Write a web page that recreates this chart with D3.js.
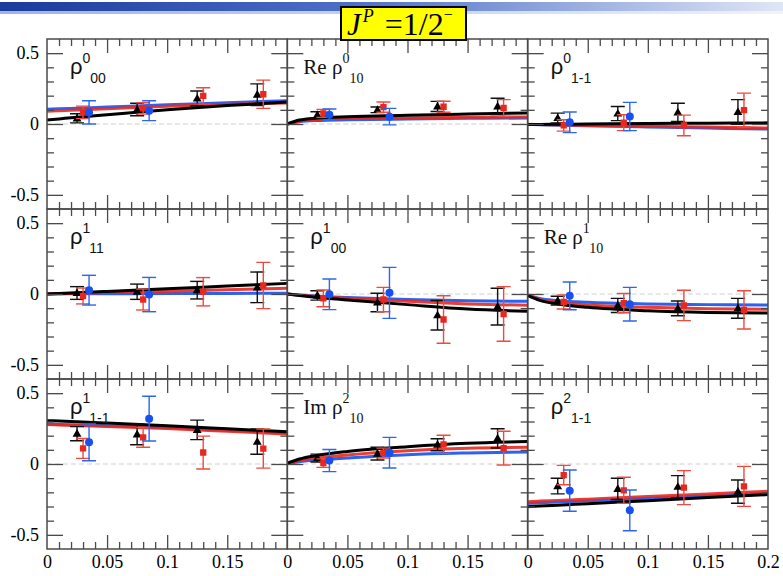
<!DOCTYPE html>
<html><head><meta charset="utf-8">
<script src="https://cdn.jsdelivr.net/npm/d3@7"></script>
<style>body{margin:0;background:#fff}svg{display:block}</style>
</head><body><svg id="c" width="783" height="576"></svg>
<script>
// ---------- DATA ----------
const labelPrefix = ["", "Re ", "", "", "", "Re ", "", "Im ", ""];
const labelSup = ["0", "0", "0", "1", "1", "1", "1", "2", "2"];
const labelSub = ["00", "10", "1-1", "11", "00", "10", "1-1", "10", "1-1"];

const xBlack = [0.025, 0.075, 0.125, 0.175];
const xRed = [0.030, 0.080, 0.130, 0.180];
const xBlue = [0.035, 0.085];

const blackVals = [
  [0.040, 0.102, 0.180, 0.207],
  [0.064, 0.100, 0.124, 0.124],
  [0.042, 0.074, 0.082, 0.085],
  [0.007, 0.016, 0.027, 0.047],
  [-0.010, -0.060, -0.150, -0.089],
  [-0.047, -0.081, -0.101, -0.101],
  [0.214, 0.209, 0.241, 0.158],
  [0.042, 0.073, 0.136, 0.181],
  [-0.156, -0.176, -0.161, -0.195]
];
const blackErrs = [
  [0.032, 0.044, 0.053, 0.076],
  [0.022, 0.020, 0.036, 0.058],
  [0.035, 0.050, 0.064, 0.087],
  [0.045, 0.054, 0.062, 0.108],
  [0.033, 0.065, 0.104, 0.130],
  [0.031, 0.050, 0.052, 0.070],
  [0.050, 0.073, 0.069, 0.089],
  [0.028, 0.045, 0.042, 0.068],
  [0.055, 0.075, 0.079, 0.082]
];
const redVals = [
  [0.082, 0.110, 0.198, 0.210],
  [0.075, 0.119, 0.122, 0.113],
  [-0.010, 0.009, -0.010, 0.098],
  [-0.014, -0.039, 0.016, 0.060],
  [-0.031, -0.039, -0.180, -0.141],
  [-0.056, -0.064, -0.081, -0.112],
  [0.110, 0.188, 0.081, 0.109],
  [0.006, 0.077, 0.139, 0.112],
  [-0.078, -0.186, -0.167, -0.158]
];
const redErrs = [
  [0.044, 0.040, 0.058, 0.100],
  [0.028, 0.036, 0.039, 0.059],
  [0.040, 0.056, 0.073, 0.120],
  [0.056, 0.074, 0.100, 0.163],
  [0.059, 0.086, 0.168, 0.193],
  [0.050, 0.068, 0.107, 0.135],
  [0.070, 0.070, 0.116, 0.138],
  [0.030, 0.035, 0.064, 0.119],
  [0.068, 0.092, 0.120, 0.141]
];
const blueVals = [
  [0.082, 0.094],
  [0.066, 0.052],
  [0.012, 0.053],
  [0.027, -0.004],
  [-0.002, 0.008],
  [-0.013, -0.072],
  [0.153, 0.320],
  [0.024, 0.080],
  [-0.188, -0.327]
];
const blueErrs = [
  [0.082, 0.070],
  [0.040, 0.058],
  [0.073, 0.100],
  [0.105, 0.121],
  [0.108, 0.180],
  [0.098, 0.119],
  [0.130, 0.158],
  [0.078, 0.108],
  [0.146, 0.144]
];

const curveX = [0, 0.01, 0.025, 0.05, 0.1, 0.15, 0.2];
const curveBlack = [
  [0.028, 0.036, 0.048, 0.066, 0.100, 0.130, 0.155],
  [0.000, 0.028, 0.042, 0.052, 0.061, 0.070, 0.078],
  [-0.004, -0.003, -0.002, 0.000, 0.003, 0.006, 0.008],
  [0.000, 0.004, 0.009, 0.018, 0.037, 0.056, 0.075],
  [0.000, -0.010, -0.024, -0.042, -0.075, -0.106, -0.122],
  [-0.010, -0.045, -0.070, -0.094, -0.118, -0.130, -0.134],
  [0.306, 0.303, 0.298, 0.289, 0.270, 0.249, 0.228],
  [0.005, 0.035, 0.061, 0.089, 0.122, 0.146, 0.158],
  [-0.301, -0.297, -0.291, -0.280, -0.259, -0.236, -0.216]
];
const curveRed = [
  [0.090, 0.094, 0.099, 0.108, 0.125, 0.139, 0.148],
  [0.000, 0.020, 0.030, 0.038, 0.042, 0.047, 0.050],
  [-0.002, -0.004, -0.006, -0.010, -0.016, -0.022, -0.028],
  [0.000, 0.002, 0.005, 0.010, 0.020, 0.030, 0.040],
  [0.000, -0.008, -0.018, -0.030, -0.052, -0.070, -0.080],
  [-0.008, -0.038, -0.059, -0.078, -0.094, -0.104, -0.108],
  [0.278, 0.275, 0.271, 0.265, 0.250, 0.231, 0.212],
  [0.003, 0.025, 0.042, 0.064, 0.094, 0.111, 0.118],
  [-0.266, -0.262, -0.257, -0.248, -0.229, -0.211, -0.193]
];
const curveBlue = [
  [0.104, 0.107, 0.112, 0.120, 0.136, 0.150, 0.165],
  [0.000, 0.016, 0.025, 0.030, 0.035, 0.040, 0.042],
  [-0.003, -0.005, -0.008, -0.013, -0.021, -0.029, -0.036],
  [0.000, 0.001, 0.001, 0.002, 0.003, 0.004, 0.005],
  [0.000, -0.007, -0.015, -0.024, -0.038, -0.047, -0.052],
  [-0.006, -0.032, -0.047, -0.059, -0.070, -0.075, -0.078],
  [0.282, 0.279, 0.276, 0.270, 0.256, 0.238, 0.221],
  [0.002, 0.016, 0.028, 0.042, 0.066, 0.078, 0.085],
  [-0.278, -0.274, -0.268, -0.260, -0.242, -0.224, -0.207]
];

const yTickLabels = [-0.5, 0, 0.5];
const xTickLabels = [0, 0.05, 0.1, 0.15, 0.2];
const titleMain = "J", titleSup = "P", titleMid = "=1/2", titleSup2 = "−";

// ---------- LAYOUT ----------
const svg = d3.select("#c");
const L = 47, PW = 240.33, T = 39, PH = 170;
const COL = {black: "#000000", red: "#e8281e", blue: "#1650ee", frame: "#4a4a4a"};
const SERIF = "'Liberation Serif', 'Times New Roman', serif";
const SANS = "'Liberation Sans', Arial, sans-serif";

// header band
const defs = svg.append("defs");
const g1 = defs.append("linearGradient").attr("id", "hdr");
g1.append("stop").attr("offset", "0%").attr("stop-color", "#1a3a9c");
g1.append("stop").attr("offset", "45%").attr("stop-color", "#4d6fc8");
g1.append("stop").attr("offset", "100%").attr("stop-color", "#dfe6f6");
svg.append("rect").attr("x", 0).attr("y", 2).attr("width", 783).attr("height", 9).attr("fill", "url(#hdr)");
const g2 = defs.append("linearGradient").attr("id", "hdr2");
g2.append("stop").attr("offset", "0%").attr("stop-color", "#9fb3e6");
g2.append("stop").attr("offset", "100%").attr("stop-color", "#f0f3fb");
svg.append("rect").attr("x", 0).attr("y", 11).attr("width", 783).attr("height", 3).attr("fill", "url(#hdr2)");

const tri = d3.symbol().type(d3.symbolTriangle).size(34)();
const sq = d3.symbol().type(d3.symbolSquare).size(40)();

for (let i = 0; i < 9; i++) {
  const r = Math.floor(i / 3), c = i % 3;
  const x0 = L + c * PW, y0 = T + r * PH;
  const x = d3.scaleLinear().domain([0, 0.2]).range([x0, x0 + PW]);
  const y = d3.scaleLinear().domain([-0.6, 0.6]).range([y0 + PH, y0]);
  const g = svg.append("g");
  const clipId = "clip" + i;
  defs.append("clipPath").attr("id", clipId).append("rect")
    .attr("x", x0).attr("y", y0).attr("width", PW).attr("height", PH);
  const inner = g.append("g").attr("clip-path", `url(#${clipId})`);

  // zero dashed line
  inner.append("line").attr("x1", x(0)).attr("x2", x(0.2)).attr("y1", y(0)).attr("y2", y(0))
    .attr("stroke", "#cfcfcf").attr("stroke-width", 1).attr("stroke-dasharray", "5,3");

  // curves
  const line = d3.line().x((d, k) => x(curveX[k])).y(d => y(d)).curve(d3.curveMonotoneX);
  [[curveBlue[i], COL.blue, 0.9], [curveRed[i], COL.red, 0.9], [curveBlack[i], COL.black, 1]].forEach(([data, col, op]) => {
    inner.append("path").attr("d", line(data)).attr("fill", "none")
      .attr("stroke", col).attr("stroke-width", 3).attr("stroke-opacity", op);
  });

  // error bars + markers
  function series(xs, vals, errs, col, ecol, shape) {
    const gg = inner.append("g");
    xs.forEach((xv, k) => {
      const cx = x(xv), v = vals[k], e = errs[k];
      const yt = y(v + e), yb = y(v - e);
      gg.append("line").attr("x1", cx).attr("x2", cx).attr("y1", yt).attr("y2", yb)
        .attr("stroke", ecol).attr("stroke-width", 1.4);
      [yt, yb].forEach(yy => gg.append("line").attr("x1", cx - 7).attr("x2", cx + 7)
        .attr("y1", yy).attr("y2", yy).attr("stroke", ecol).attr("stroke-width", 1.4));
      if (shape === "circle") {
        gg.append("circle").attr("cx", cx).attr("cy", y(v)).attr("r", 4).attr("fill", col);
      } else {
        gg.append("path").attr("d", shape).attr("transform", `translate(${cx},${y(v) + (shape === tri ? 0.5 : 0)})`).attr("fill", col);
      }
    });
  }
  series(xBlack, blackVals[i], blackErrs[i], COL.black, "#111", tri);
  series(xRed, redVals[i], redErrs[i], COL.red, "#ee4a3e", sq);
  series(xBlue.slice(0, blueVals[i].length), blueVals[i], blueErrs[i], COL.blue, "#2a66f0", "circle");

  // frame
  g.append("rect").attr("x", x0).attr("y", y0).attr("width", PW).attr("height", PH)
    .attr("fill", "none").attr("stroke", COL.frame).attr("stroke-width", 1.5);

  // ticks via axes
  const xMinor = d3.range(0, 21).map(k => k / 100).filter(v => Math.round(v * 100) % 5 !== 0);
  const xMajor = [0.05, 0.1, 0.15];
  const yMinor = d3.range(-5, 6).map(k => k / 10).filter(v => Math.round(v * 10) % 5 !== 0);
  const yMajor = [-0.5, 0, 0.5];
  const ax = (gen, tr) => {
    const a = g.append("g").attr("transform", tr).call(gen);
    a.select(".domain").remove();
    a.selectAll(".tick line").attr("stroke", COL.frame).attr("stroke-width", 1.3);
    a.selectAll(".tick text").remove();
  };
  ax(d3.axisBottom(x).tickValues(xMinor).tickSize(-7), `translate(0,${y0 + PH})`);
  ax(d3.axisBottom(x).tickValues(xMajor).tickSize(-14), `translate(0,${y0 + PH})`);
  ax(d3.axisTop(x).tickValues(xMinor).tickSize(-7), `translate(0,${y0})`);
  ax(d3.axisTop(x).tickValues(xMajor).tickSize(-14), `translate(0,${y0})`);
  ax(d3.axisLeft(y).tickValues(yMinor).tickSize(-7), `translate(${x0},0)`);
  ax(d3.axisLeft(y).tickValues(yMajor).tickSize(-16), `translate(${x0},0)`);
  ax(d3.axisRight(y).tickValues(yMinor).tickSize(-7), `translate(${x0 + PW},0)`);
  ax(d3.axisRight(y).tickValues(yMajor).tickSize(-16), `translate(${x0 + PW},0)`);

  // tick labels
  if (c === 0) {
    const a = g.append("g").attr("transform", `translate(${x0},0)`)
      .call(d3.axisLeft(y).tickValues(yTickLabels).tickSize(0).tickPadding(8).tickFormat(d => String(d)));
    a.select(".domain").remove();
    a.attr("font-family", null).attr("font-size", null);
    a.selectAll("text").style("font-family", SERIF).style("font-size", "18px").attr("fill", "#000");
  }
  if (r === 2) {
    const vals = c === 2 ? xTickLabels : xTickLabels.slice(0, 4);
    const a = g.append("g").attr("transform", `translate(0,${y0 + PH})`)
      .call(d3.axisBottom(x).tickValues(vals).tickSize(0).tickPadding(6).tickFormat(d => String(d)));
    a.select(".domain").remove();
    a.attr("font-family", null).attr("font-size", null);
    a.selectAll("text").style("font-family", SERIF).style("font-size", "18px").attr("fill", "#000");
  }

  // panel label
  const serif = labelPrefix[i] !== "";
  const t = g.append("text").attr("x", x0 + (serif ? 16 : 23)).attr("y", y0 + 35)
    .style("font-family", serif ? SERIF : SANS).attr("fill", "#111");
  t.append("tspan").attr("font-size", serif ? 21 : 22).text(labelPrefix[i] + "ρ");
  t.append("tspan").attr("font-size", 14).attr("dy", -11).text(labelSup[i]);
  t.append("tspan").attr("font-size", 14).attr("dy", 20).text(labelSub[i]);
}

// title box
svg.append("rect").attr("x", 341).attr("y", 7).attr("width", 125).attr("height", 33)
  .attr("fill", "#ffff00").attr("stroke", "#000").attr("stroke-width", 2);
const tt = svg.append("text").attr("x", 347).attr("y", 35).style("font-family", SERIF).attr("fill", "#000");
tt.append("tspan").attr("font-size", 31).attr("font-style", "italic").text(titleMain);
tt.append("tspan").attr("font-size", 18).attr("font-style", "italic").attr("dy", -13).attr("dx", 2).text(titleSup);
tt.append("tspan").attr("font-size", 32).attr("dy", 13).attr("dx", 11).text(titleMid);
tt.append("tspan").attr("font-size", 16).attr("dy", -15).text(titleSup2);
</script></body></html>
